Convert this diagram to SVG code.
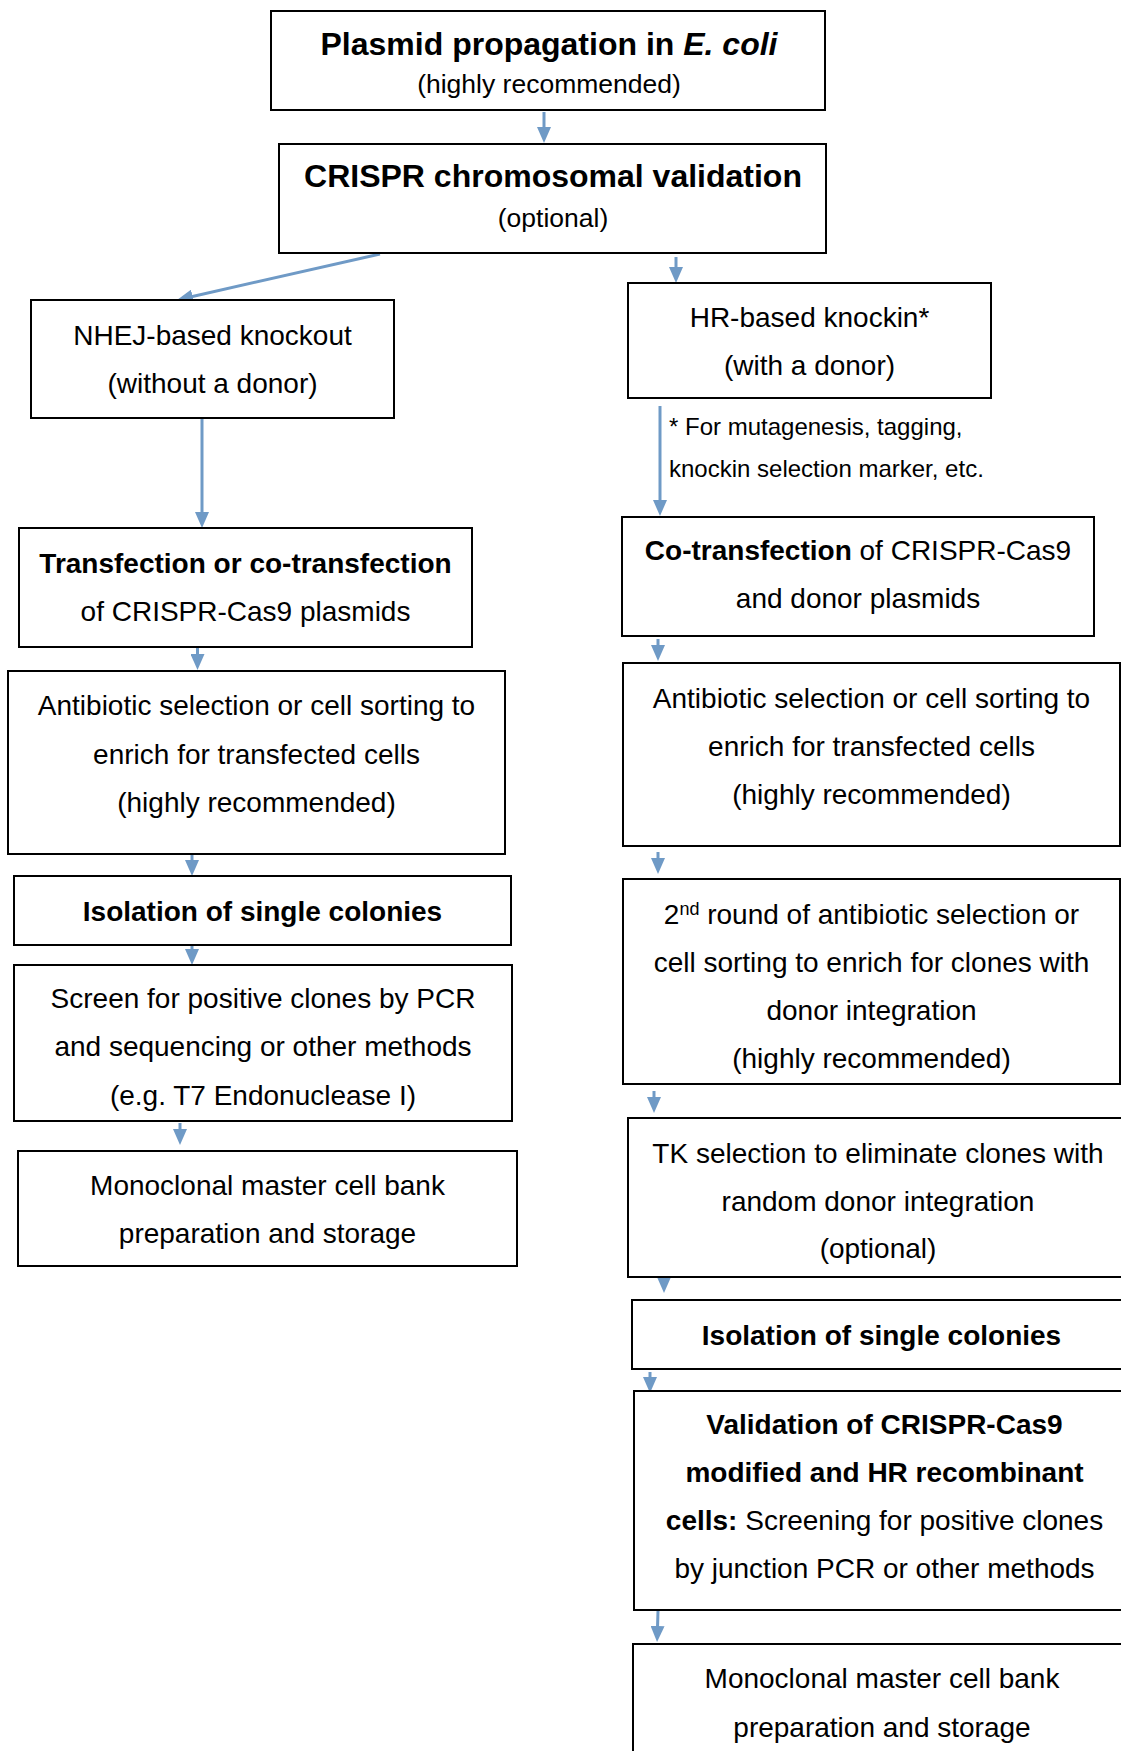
<svg xmlns="http://www.w3.org/2000/svg" width="1121" height="1751" viewBox="0 0 1121 1751">
<style>
.box{fill:#fff;stroke:#000;stroke-width:2}
text{font-family:"Liberation Sans",Arial,sans-serif;fill:#000;text-anchor:middle}
.t{font-size:28px}
.h{font-size:32px;font-weight:bold}
.s{font-size:26.5px}
.b{font-weight:bold}
.n{font-size:24px;text-anchor:start}
.c{fill:none;stroke:#6F9AC6;stroke-width:3;marker-end:url(#ah)}
</style>
<defs>
<marker id="ah" markerUnits="userSpaceOnUse" markerWidth="16" markerHeight="14" viewBox="0 0 16 14" refX="8" refY="7" orient="auto">
<path d="M0,0 L16,7 L0,14 z" fill="#6F9AC6"/>
</marker>
</defs>
<rect width="1121" height="1751" fill="#fff"/>
<g id="connectors">
<line class="c" x1="544" y1="112" x2="544" y2="135"/>
<line class="c" x1="380" y1="254" x2="184.8" y2="298.2"/>
<line class="c" x1="676" y1="257" x2="676" y2="275"/>
<line class="c" x1="202" y1="419" x2="202" y2="520"/>
<line class="c" x1="660" y1="406" x2="660" y2="508"/>
<line class="c" x1="197.5" y1="648" x2="197.5" y2="662"/>
<line class="c" x1="658" y1="639" x2="658" y2="653"/>
<line class="c" x1="192" y1="855" x2="192" y2="868"/>
<line class="c" x1="658" y1="852" x2="658" y2="866"/>
<line class="c" x1="192" y1="946" x2="192" y2="957"/>
<line class="c" x1="654" y1="1091" x2="654" y2="1105"/>
<line class="c" x1="180" y1="1123" x2="180" y2="1137"/>
<line class="c" x1="664" y1="1272" x2="664" y2="1285"/>
<line class="c" x1="650" y1="1372" x2="650" y2="1385"/>
<line class="c" x1="658" y1="1611" x2="657.3" y2="1634"/>
</g>
<g id="n1">
<rect class="box" x="271" y="11" width="554" height="99"/>
<text class="h" x="549" y="55">Plasmid propagation in <tspan font-style="italic">E. coli</tspan></text>
<text class="s" x="549" y="93">(highly recommended)</text>
</g>
<g id="n2">
<rect class="box" x="279" y="144" width="547" height="109"/>
<text class="h" x="553" y="187">CRISPR chromosomal validation</text>
<text class="s" x="553" y="227">(optional)</text>
</g>
<g id="n3">
<rect class="box" x="31" y="300" width="363" height="118"/>
<text class="t" x="212.5" y="345">NHEJ-based knockout</text>
<text class="t" x="212.5" y="393">(without a donor)</text>
</g>
<g id="n4">
<rect class="box" x="628" y="283" width="363" height="115"/>
<text class="t" x="809.5" y="327">HR-based knockin*</text>
<text class="t" x="809.5" y="375">(with a donor)</text>
</g>
<g id="note">
<text class="n" x="669" y="435">* For mutagenesis, tagging,</text>
<text class="n" x="669" y="477">knockin selection marker, etc.</text>
</g>
<g id="n5">
<rect class="box" x="19" y="528" width="453" height="119"/>
<text class="t b" x="245.5" y="573">Transfection or co-transfection</text>
<text class="t" x="245.5" y="621">of CRISPR-Cas9 plasmids</text>
</g>
<g id="n6">
<rect class="box" x="622" y="517" width="472" height="119"/>
<text class="t" x="858" y="560"><tspan class="b">Co-transfection</tspan> of CRISPR-Cas9</text>
<text class="t" x="858" y="608">and donor plasmids</text>
</g>
<g id="n7">
<rect class="box" x="8" y="671" width="497" height="183"/>
<text class="t" x="256.5" y="715">Antibiotic selection or cell sorting to</text>
<text class="t" x="256.5" y="764">enrich for transfected cells</text>
<text class="t" x="256.5" y="812">(highly recommended)</text>
</g>
<g id="n8">
<rect class="box" x="623" y="663" width="497" height="183"/>
<text class="t" x="871.5" y="708">Antibiotic selection or cell sorting to</text>
<text class="t" x="871.5" y="756">enrich for transfected cells</text>
<text class="t" x="871.5" y="804">(highly recommended)</text>
</g>
<g id="n9">
<rect class="box" x="14" y="876" width="497" height="69"/>
<text class="t b" x="262.5" y="921">Isolation of single colonies</text>
</g>
<g id="n10">
<rect class="box" x="623" y="879" width="497" height="205"/>
<text class="t" x="871.5" y="924">2<tspan font-size="18" dy="-9">nd</tspan><tspan dy="9"> round of antibiotic selection or</tspan></text>
<text class="t" x="871.5" y="972">cell sorting to enrich for clones with</text>
<text class="t" x="871.5" y="1020">donor integration</text>
<text class="t" x="871.5" y="1068">(highly recommended)</text>
</g>
<g id="n11">
<rect class="box" x="14" y="965" width="498" height="156"/>
<text class="t" x="263" y="1008">Screen for positive clones by PCR</text>
<text class="t" x="263" y="1056">and sequencing or other methods</text>
<text class="t" x="263" y="1105">(e.g. T7 Endonuclease I)</text>
</g>
<g id="n12">
<rect class="box" x="18" y="1151" width="499" height="115"/>
<text class="t" x="267.5" y="1195">Monoclonal master cell bank</text>
<text class="t" x="267.5" y="1243">preparation and storage</text>
</g>
<g id="n13">
<rect class="box" x="628" y="1118" width="500" height="159"/>
<text class="t" x="878" y="1163">TK selection to eliminate clones with</text>
<text class="t" x="878" y="1211">random donor integration</text>
<text class="t" x="878" y="1258">(optional)</text>
</g>
<g id="n14">
<rect class="box" x="632" y="1300" width="499" height="69"/>
<text class="t b" x="881.5" y="1345">Isolation of single colonies</text>
</g>
<g id="n15">
<rect class="box" x="634" y="1391" width="501" height="219"/>
<text class="t b" x="884.5" y="1434">Validation of CRISPR-Cas9</text>
<text class="t b" x="884.5" y="1482">modified and HR recombinant</text>
<text class="t" x="884.5" y="1530"><tspan class="b">cells:</tspan> Screening for positive clones</text>
<text class="t" x="884.5" y="1578">by junction PCR or other methods</text>
</g>
<g id="n16">
<rect class="box" x="633" y="1644" width="498" height="140"/>
<text class="t" x="882" y="1688">Monoclonal master cell bank</text>
<text class="t" x="882" y="1737">preparation and storage</text>
</g>
</svg>
